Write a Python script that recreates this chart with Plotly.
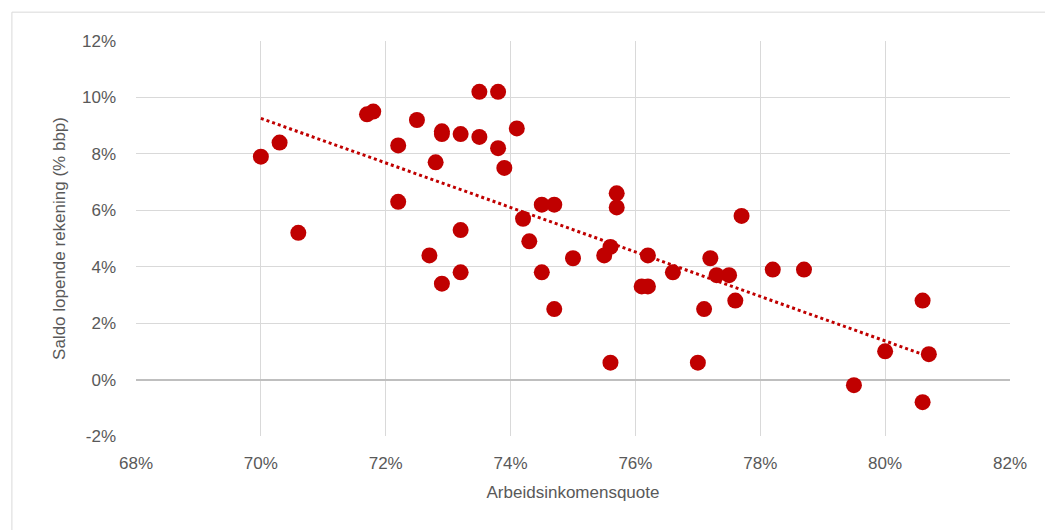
import numpy as np
import plotly.graph_objects as go

# arbeidsinkomensquote (%) en saldo lopende rekening (% bbp)
aiq = [70.0, 70.3, 70.6, 71.7, 71.8, 72.2, 72.2, 72.5, 72.7, 72.8,
       72.9, 72.9, 72.9, 73.2, 73.2, 73.2, 73.5, 73.5, 73.8, 73.8,
       73.9, 74.1, 74.2, 74.3, 74.5, 74.5, 74.7, 74.7, 75.0, 75.5,
       75.6, 75.6, 75.7, 75.7, 76.1, 76.2, 76.2, 76.6, 77.0, 77.1,
       77.2, 77.3, 77.5, 77.6, 77.7, 78.2, 78.7, 79.5, 80.0, 80.6,
       80.6, 80.7]
saldo = [7.9, 8.4, 5.2, 9.4, 9.5, 8.3, 6.3, 9.2, 4.4, 7.7,
         8.8, 8.7, 3.4, 8.7, 5.3, 3.8, 10.2, 8.6, 10.2, 8.2,
         7.5, 8.9, 5.7, 4.9, 6.2, 3.8, 6.2, 2.5, 4.3, 4.4,
         4.7, 0.6, 6.6, 6.1, 3.3, 3.3, 4.4, 3.8, 0.6, 2.5,
         4.3, 3.7, 3.7, 2.8, 5.8, 3.9, 3.9, -0.2, 1.0, 2.8,
         -0.8, 0.9]

x_ticks = [68, 70, 72, 74, 76, 78, 80, 82]
y_ticks = [-2, 0, 2, 4, 6, 8, 10, 12]

red = '#c00000'
grey_txt = '#595959'

# lineaire trendlijn (kleinste kwadraten), zoals Excel
slope, icpt = np.polyfit(aiq, saldo, 1)
tx = [min(aiq), max(aiq)]
ty = [slope * v + icpt for v in tx]

fig = go.Figure()
fig.add_trace(go.Scatter(x=tx, y=ty, mode='lines',
                         line=dict(color=red, width=3, dash='dot'),
                         hoverinfo='skip'))
fig.add_trace(go.Scatter(x=aiq, y=saldo, mode='markers',
                         marker=dict(color=red, size=16)))

fig.update_xaxes(range=[68, 82], tickvals=x_ticks,
                 ticktext=[str(v) + '%' for v in x_ticks],
                 showgrid=True, gridcolor='#d9d9d9', gridwidth=1,
                 zeroline=False, showline=False, ticks='',
                 ticklabelstandoff=15,
                 tickfont=dict(size=17, color=grey_txt),
                 title=dict(text='Arbeidsinkomensquote', standoff=14,
                            font=dict(size=17, color=grey_txt)))
fig.update_yaxes(range=[-2, 12], tickvals=y_ticks,
                 ticktext=[str(v) + '%' for v in y_ticks],
                 showgrid=True, gridcolor='#d9d9d9', gridwidth=1,
                 zeroline=True, zerolinecolor='#bfbfbf', zerolinewidth=2,
                 showline=False, ticks='',
                 ticklabelstandoff=19,
                 tickfont=dict(size=17, color=grey_txt),
                 title=dict(text='Saldo lopende rekening (% bbp)', standoff=12,
                            font=dict(size=17, color=grey_txt)))

fig.update_layout(width=1053, height=530, showlegend=False,
                  margin=dict(l=128, r=51, t=33, b=102),
                  plot_bgcolor='white', paper_bgcolor='white',
                  font=dict(family='Liberation Sans, Arial, sans-serif'),
                  shapes=[dict(type='rect', xref='paper', yref='paper',
                               x0=-0.142, x1=1.2, y0=-0.4, y1=1.073,
                               line=dict(color='#d9d9d9', width=1),
                               fillcolor='rgba(0,0,0,0)', layer='below')])

fig.write_html("out.html")
